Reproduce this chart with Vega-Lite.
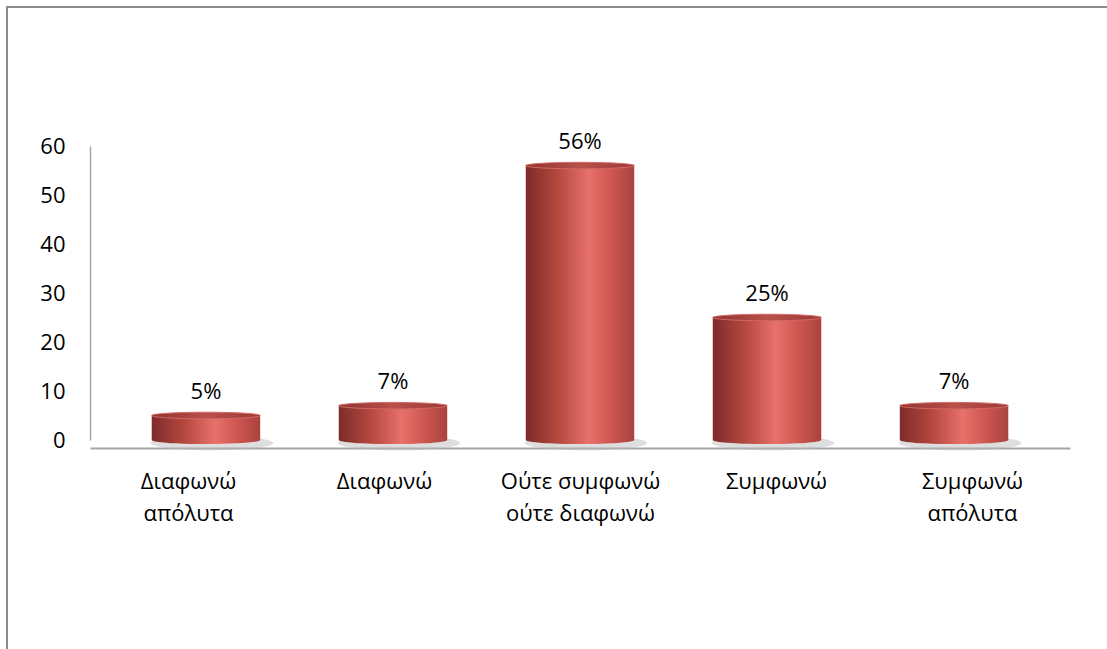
{
  "$schema": "https://vega.github.io/schema/vega-lite/v6.json",
  "width": 1100,
  "height": 642,
  "autosize": {"type": "none"},
  "padding": {"left": 7, "top": 7, "right": 0, "bottom": 0},
  "background": "white",
  "config": {
    "view": {"stroke": "#8c8c8c", "strokeWidth": 2, "strokeDash": [1100, 1742, 642]},
    "font": "Open Sans"
  },
  "data": {
    "values": [
      {"c": "Διαφωνώ απόλυτα", "v": 5, "label": "5%"},
      {"c": "Διαφωνώ", "v": 7, "label": "7%"},
      {"c": "Ούτε συμφωνώ ούτε διαφωνώ", "v": 56, "label": "56%"},
      {"c": "Συμφωνώ", "v": 25, "label": "25%"},
      {"c": "Συμφωνώ απόλυτα", "v": 7, "label": "7%"}
    ]
  },
  "encoding": {
    "y": {
      "field": "v",
      "type": "quantitative",
      "scale": {"domain": [0, 60], "range": [433, 139], "nice": false},
      "axis": {
        "orient": "left",
        "offset": -83,
        "title": null,
        "values": [0, 10, 20, 30, 40, 50, 60],
        "grid": false,
        "ticks": false,
        "domainColor": "#a6a6a6",
        "domainWidth": 1.5,
        "labelFontSize": 22,
        "labelColor": "#000000",
        "labelPadding": 25
      }
    }
  },
  "layer": [
    {
      "mark": {"type": "point", "opacity": 0, "size": 1},
      "encoding": {
        "y": {"datum": 0},
        "x": {
          "field": "c",
          "type": "nominal",
          "sort": null,
          "scale": {"range": [83, 1063], "paddingInner": 0, "paddingOuter": 0},
          "axis": {
            "orient": "bottom",
            "offset": -201,
            "title": null,
            "labelAngle": 0,
            "ticks": false,
            "domainColor": "#a6a6a6",
            "domainWidth": 2,
            "labelFontSize": 22,
            "labelColor": "#000000",
            "labelPadding": 23,
            "labelLineHeight": 32,
            "labelLimit": 0,
            "labelExpr": "datum.label === 'Διαφωνώ απόλυτα' ? ['Διαφωνώ','απόλυτα'] : datum.label === 'Ούτε συμφωνώ ούτε διαφωνώ' ? ['Ούτε συμφωνώ','ούτε διαφωνώ'] : datum.label === 'Συμφωνώ απόλυτα' ? ['Συμφωνώ','απόλυτα'] : datum.label"
          }
        }
      }
    },
    {
      "encoding": {
        "x": {
          "field": "c",
          "type": "nominal",
          "sort": null,
          "scale": {"range": [83, 1063], "paddingInner": 0.42, "paddingOuter": 0.33},
          "axis": null
        }
      },
      "layer": [
        {
          "mark": {
            "type": "point",
            "shape": "M -1 0 A 1 0.12 0 1 1 1 0 A 1 0.12 0 1 1 -1 0 Z",
            "size": 15000,
            "filled": true,
            "fill": "#b5b5b5",
            "opacity": 0.45,
            "strokeWidth": 0,
            "xOffset": 6,
            "yOffset": 3
          },
          "encoding": {"y": {"datum": 0}}
        },
        {
          "mark": {
            "type": "point",
            "shape": "M -1 0 A 1 0.075 0 1 1 1 0 A 1 0.075 0 1 1 -1 0 Z",
            "size": 11772,
            "filled": true,
            "opacity": 1,
            "strokeWidth": 0,
            "fill": {
              "gradient": "linear", "x1": 0, "x2": 1, "y1": 0, "y2": 0,
              "stops": [
                {"offset": 0, "color": "#7e2b2a"},
                {"offset": 0.3, "color": "#b5483f"},
                {"offset": 0.58, "color": "#e8716c"},
                {"offset": 0.8, "color": "#cc5550"},
                {"offset": 1, "color": "#a9423e"}
              ]
            }
          },
          "encoding": {"y": {"datum": 0}}
        },
        {
          "mark": {
            "type": "bar",
            "strokeWidth": 0,
            "fill": {
              "gradient": "linear", "x1": 0, "x2": 1, "y1": 0, "y2": 0,
              "stops": [
                {"offset": 0, "color": "#7e2b2a"},
                {"offset": 0.3, "color": "#b5483f"},
                {"offset": 0.58, "color": "#e8716c"},
                {"offset": 0.8, "color": "#cc5550"},
                {"offset": 1, "color": "#a9423e"}
              ]
            }
          }
        },
        {
          "mark": {
            "type": "point",
            "shape": "M -1 0 A 1 0.06 0 1 1 1 0 A 1 0.06 0 1 1 -1 0 Z",
            "size": 11772,
            "filled": true,
            "opacity": 1,
            "stroke": "#d46863",
            "strokeWidth": 1,
            "fill": {
              "gradient": "linear", "x1": 0, "x2": 1, "y1": 0, "y2": 0,
              "stops": [
                {"offset": 0, "color": "#8e3430"},
                {"offset": 0.5, "color": "#b9504b"},
                {"offset": 1, "color": "#9c3b37"}
              ]
            }
          }
        },
        {
          "mark": {
            "type": "text",
            "baseline": "middle",
            "dy": -24,
            "fontSize": 22,
            "color": "#000000"
          },
          "encoding": {"text": {"field": "label"}}
        }
      ]
    }
  ],
  "resolve": {"scale": {"x": "independent"}, "axis": {"x": "independent"}}
}
